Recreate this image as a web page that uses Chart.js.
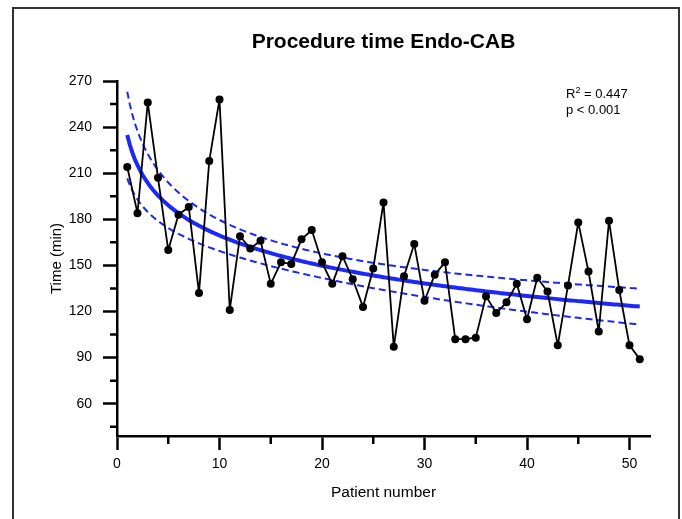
<!DOCTYPE html>
<html>
<head>
<meta charset="utf-8">
<title>Procedure time Endo-CAB</title>
<script src="https://cdn.jsdelivr.net/npm/chart.js@4"></script>
<style>
  html, body { margin: 0; padding: 0; background: #fff; }
  #wrap { position: relative; width: 682px; height: 519px; overflow: hidden; }
  #chart { display: block; }
  /* the picture sits in a thin dark frame that runs off the bottom edge */
  #frame { position: absolute; left: 12px; top: 7px; width: 668px; height: 540px;
           border: 2px solid #333; box-sizing: border-box; pointer-events: none; }
</style>
</head>
<body>
<div id="wrap">
  <canvas id="chart" width="682" height="519" style="width:682px;height:519px"></canvas>
  <div id="frame"></div>
</div>
<script>
// data
const patientNumbers = [
  1, 2, 3, 4, 5, 6, 7, 8, 9, 10,
  11, 12, 13, 14, 15, 16, 17, 18, 19, 20,
  21, 22, 23, 24, 25, 26, 27, 28, 29, 30,
  31, 32, 33, 34, 35, 36, 37, 38, 39, 40,
  41, 42, 43, 44, 45, 46, 47, 48, 49, 50, 51
];
const procedureTimes = [
  214, 184, 256, 207, 160, 183, 188, 132, 218, 258,
  121, 169, 161, 166, 138, 152, 151, 167, 173, 152,
  138, 156, 141, 123, 148, 191, 97, 143, 164, 127,
  144, 152, 102, 102, 103, 130, 119, 126, 138, 115,
  142, 133, 98, 137, 178, 146, 107, 179, 134, 98, 89
];

// axis ticks
const yTickValues = [60, 90, 120, 150, 180, 210, 240, 270];
const yMinorTickValues = [45, 75, 105, 135, 165, 195, 225, 255];
const xTickValues = [0, 10, 20, 30, 40, 50];
const xMinorTickValues = [5, 15, 25, 35, 45];

// texts
const chartTitle = 'Procedure time Endo-CAB';
const xTitle = 'Patient number';
const yTitle = 'Time (min)';
const rSquaredValue = '0.447';
const pValueText = 'p < 0.001';

const BLUE = 'rgb(28, 40, 250)';
const FONT = '"Liberation Sans", Arial, Helvetica, sans-serif';

/**
 * least squares fit  y = a + b * ln(x)  with 95% confidence band
 */
function logFit(xs, ys) {
    const n = xs.length;
    const u = xs.map(v => Math.log(v));
    const uMean = u.reduce((s, v) => s + v, 0) / n;
    const yMean = ys.reduce((s, v) => s + v, 0) / n;
    let suu = 0, suy = 0;
    for (let i = 0; i < n; i++) {
        suu += (u[i] - uMean) * (u[i] - uMean);
        suy += (u[i] - uMean) * (ys[i] - yMean);
    }
    const slope = suy / suu;
    const intercept = yMean - slope * uMean;
    let sse = 0;
    for (let i = 0; i < n; i++) {
        const r = ys[i] - (intercept + slope * u[i]);
        sse += r * r;
    }
    const s = Math.sqrt(sse / (n - 2));
    const t = 2.0096; // t(0.975, df = 49)
    return {
        at(x) {
            const lu = Math.log(x);
            const y = intercept + slope * lu;
            const half = t * s * Math.sqrt(1 / n + (lu - uMean) * (lu - uMean) / suu);
            return { y: y, lo: y - half, hi: y + half };
        }
    };
}

const fit = logFit(patientNumbers, procedureTimes);
const fitLine = [], fitUpper = [], fitLower = [];
const firstX = patientNumbers[0];
const lastX = patientNumbers[patientNumbers.length - 1];
for (let x = firstX; x <= lastX + 1e-9; x += 0.25) {
    const f = fit.at(x);
    fitLine.push({ x: x, y: f.y });
    fitUpper.push({ x: x, y: f.hi });
    fitLower.push({ x: x, y: f.lo });
}

const dataPoints = patientNumbers.map((x, i) => ({ x: x, y: procedureTimes[i] }));

// minor ticks (shorter than the major ones)
const minorTicks = {
    id: 'minorTicks',
    afterDraw(chart) {
        const ctx = chart.ctx;
        const x = chart.scales.x;
        const y = chart.scales.y;
        ctx.save();
        ctx.strokeStyle = '#000';
        ctx.lineWidth = 2.5;
        ctx.beginPath();
        yMinorTickValues.forEach(v => {
            const py = y.getPixelForValue(v);
            ctx.moveTo(y.right, py);
            ctx.lineTo(y.right - 7, py);
        });
        xMinorTickValues.forEach(v => {
            const px = x.getPixelForValue(v);
            ctx.moveTo(px, x.top);
            ctx.lineTo(px, x.top + 8);
        });
        ctx.stroke();
        ctx.restore();
    }
};

// R² and p value in the top right corner
const statsText = {
    id: 'statsText',
    afterDraw(chart) {
        const ctx = chart.ctx;
        const left = chart.chartArea.right - 84;
        const top = chart.chartArea.top + 17;
        ctx.save();
        ctx.fillStyle = '#000';
        ctx.textBaseline = 'alphabetic';
        ctx.textAlign = 'left';
        ctx.font = '13px ' + FONT;
        ctx.fillText('R', left, top);
        let cx = left + ctx.measureText('R').width;
        ctx.font = '9px ' + FONT;
        ctx.fillText('2', cx, top - 5);
        cx += ctx.measureText('2').width;
        ctx.font = '13px ' + FONT;
        ctx.fillText(' = ' + rSquaredValue, cx, top);
        ctx.fillText(pValueText, left, top + 16);
        ctx.restore();
    }
};

const tickFont = { family: FONT, size: 14 };

new Chart(document.getElementById('chart'), {
    type: 'scatter',
    data: {
        datasets: [
            {
                label: 'Procedure time',
                data: dataPoints,
                showLine: true,
                borderColor: '#000',
                borderWidth: 1.8,
                borderJoinStyle: 'round',
                pointRadius: 4,
                pointBackgroundColor: '#000',
                pointBorderColor: '#000',
                pointBorderWidth: 0,
                order: 0
            },
            {
                label: 'Fit',
                data: fitLine,
                showLine: true,
                borderColor: BLUE,
                borderWidth: 4,
                pointRadius: 0,
                order: 1
            },
            {
                label: 'Upper 95% CI',
                data: fitUpper,
                showLine: true,
                borderColor: BLUE,
                borderWidth: 2,
                borderDash: [7, 4],
                pointRadius: 0,
                order: 2
            },
            {
                label: 'Lower 95% CI',
                data: fitLower,
                showLine: true,
                borderColor: BLUE,
                borderWidth: 2,
                borderDash: [7, 4],
                pointRadius: 0,
                order: 2
            }
        ]
    },
    options: {
        responsive: false,
        animation: false,
        layout: { padding: { left: 0, right: 32, top: 0, bottom: 0 } },
        plugins: {
            legend: { display: false },
            tooltip: { enabled: false },
            title: { display: false }
        },
        scales: {
            x: {
                type: 'linear',
                position: 'bottom',
                min: 0,
                max: 52,
                afterBuildTicks: s => { s.ticks = xTickValues.map(v => ({ value: v })); },
                afterFit: s => { s.height = 83; },
                grid: { drawOnChartArea: false, tickLength: 14, tickWidth: 2.5, tickColor: '#000' },
                border: { color: '#000', width: 2.5 },
                ticks: { color: '#000', font: tickFont, padding: 6, maxRotation: 0, callback: v => String(v) },
                title: { display: true, text: xTitle, color: '#000', font: { family: FONT, size: 15.5 }, padding: { top: 0, bottom: 17 } }
            },
            x2: {
                type: 'linear',
                position: 'top',
                min: 0,
                max: 52,
                afterFit: s => { s.height = 81; },
                grid: { display: false },
                border: { display: false },
                ticks: { display: false },
                title: { display: true, text: chartTitle, color: '#000', font: { family: FONT, size: 21, weight: 'bold' }, padding: { top: 30, bottom: 0 } }
            },
            y: {
                type: 'linear',
                position: 'left',
                min: 39,
                max: 270,
                afterBuildTicks: s => { s.ticks = yTickValues.map(v => ({ value: v })); },
                afterFit: s => { s.width = 117; },
                grid: { drawOnChartArea: false, tickLength: 14, tickWidth: 2.5, tickColor: '#000' },
                border: { color: '#000', width: 2.5 },
                ticks: { color: '#000', font: tickFont, padding: 11, callback: v => String(v) },
                title: { display: true, text: yTitle, color: '#000', font: { family: FONT, size: 15 }, padding: { top: 48, bottom: 0 } }
            }
        }
    },
    plugins: [minorTicks, statsText]
});
</script>
</body>
</html>
